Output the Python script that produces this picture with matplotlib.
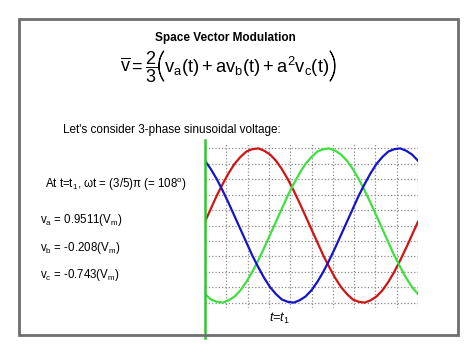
import matplotlib
matplotlib.use("Agg")
import matplotlib.pyplot as plt
import matplotlib.patheffects as pe
from matplotlib.patches import Rectangle

plt.rcParams['font.family'] = ['Liberation Sans', 'DejaVu Sans']
plt.rcParams['mathtext.fontset'] = 'custom'
plt.rcParams['mathtext.rm'] = 'Liberation Sans'
plt.rcParams['mathtext.it'] = 'Liberation Sans:italic'
plt.rcParams['mathtext.bf'] = 'Liberation Sans:bold'
plt.rcParams['mathtext.sf'] = 'Liberation Sans'

# angle in degrees (one period across the plot)
theta = [0, 10, 20, 30, 40, 50, 60, 70, 80, 90, 100, 110, 120, 130, 140, 150, 160, 170, 180,
         190, 200, 210, 220, 230, 240, 250, 260, 270, 280, 290, 300, 310, 320, 330, 340, 350, 360]

# values (per unit of Vm)
va = [0.05, 0.22, 0.39, 0.54, 0.68, 0.80, 0.89, 0.96, 0.99, 1.00, 0.97, 0.92, 0.84, 0.73, 0.60,
      0.45, 0.29, 0.12, -0.05, -0.22, -0.39, -0.54, -0.68, -0.80, -0.89, -0.96, -0.99, -1.00,
      -0.97, -0.92, -0.84, -0.73, -0.60, -0.45, -0.29, -0.12, 0.05]
vb = [-0.89, -0.96, -0.99, -1.00, -0.97, -0.92, -0.84, -0.73, -0.60, -0.45, -0.29, -0.12, 0.05,
      0.22, 0.39, 0.54, 0.68, 0.80, 0.89, 0.96, 0.99, 1.00, 0.97, 0.92, 0.84, 0.73, 0.60, 0.45,
      0.29, 0.12, -0.05, -0.22, -0.39, -0.54, -0.68, -0.80, -0.89]
vc = [0.84, 0.73, 0.60, 0.45, 0.29, 0.12, -0.05, -0.22, -0.39, -0.54, -0.68, -0.80, -0.89, -0.96,
      -0.99, -1.00, -0.97, -0.92, -0.84, -0.73, -0.60, -0.45, -0.29, -0.12, 0.05, 0.22, 0.39,
      0.54, 0.68, 0.80, 0.89, 0.96, 0.99, 1.00, 0.97, 0.92, 0.84]

x_grid = [0, 36, 72, 108, 144, 180, 216, 252, 288, 324, 360]
y_grid = [-1.0, -0.8, -0.6, -0.4, -0.2, 0.0, 0.2, 0.4, 0.6, 0.8, 1.0]
t1 = 0         # where the green marker line sits
t1_label = 125  # where the t=t1 caption sits

W, H = 474, 355
fig = plt.figure(figsize=(W / 100, H / 100), dpi=100)
renderer = fig.canvas.get_renderer()

# slide frame
fig.patches.append(Rectangle((19 / W, 1 - 335 / H), 439 / W, 316 / H,
                             transform=fig.transFigure, fill=False,
                             edgecolor='#6e6e6e', linewidth=2.0))

fig.text(0.475, 0.893, 'Space Vector Modulation', ha='center', va='center',
         fontsize=8.5, fontweight='bold')


# equation laid out piece by piece so the outer brackets can be tall
def put(x_px, base_px, s, size, **kw):
    t = fig.text(x_px / W, 1 - base_px / H, s, ha='left', va='baseline', fontsize=size, **kw)
    return t.get_window_extent(renderer).x1


paren = dict(family=['Lato', 'Liberation Sans'], fontweight='light',
             path_effects=[pe.withStroke(linewidth=0.7, foreground='black')])
x = put(120, 73, r'$\overline{\mathrm{v}}=\dfrac{2}{3}$', 13)
x = put(x - 1, 77, '(', 25, **paren)
x = put(x - 1, 73, r'$\mathrm{v}_{\mathrm{a}}(\mathrm{t})+\mathrm{av}_{\mathrm{b}}(\mathrm{t})+'
                   r'\mathrm{a}^{2}\mathrm{v}_{\mathrm{c}}(\mathrm{t})$', 13.2)
put(x - 1, 77, ')', 25, **paren)

fig.text(0.133, 0.634, "Let's consider 3-phase sinusoidal voltage:", ha='left', va='center',
         fontsize=8.5)
fig.text(0.095, 0.479, r'At t=t$_{1}$, ωt = (3/5)π (= 108$^{\mathrm{o}}$)', ha='left',
         va='center', fontsize=8.3)
fig.text(0.084, 0.380, r'v$_{\mathrm{a}}$ = 0.9511(V$_{\mathrm{m}}$)', ha='left', va='center',
         fontsize=8.3)
fig.text(0.084, 0.301, r'v$_{\mathrm{b}}$ = -0.208(V$_{\mathrm{m}}$)', ha='left', va='center',
         fontsize=8.3)
fig.text(0.084, 0.225, r'v$_{\mathrm{c}}$ = -0.743(V$_{\mathrm{m}}$)', ha='left', va='center',
         fontsize=8.3)

ax = fig.add_axes([205 / W, 1 - 308 / H, 213 / W, 165 / H])
ax.plot(theta, va, color='#d01414', linewidth=1.6)
ax.plot(theta, vb, color='#3ee03e', linewidth=1.6)
ax.plot(theta, vc, color='#1414c8', linewidth=1.6)
ax.set_xlim(0, 360)
ax.set_ylim(-1.07, 1.07)
ax.set_xticks(x_grid)
ax.set_yticks(y_grid)
ax.grid(True, color='#8a8a8a', linestyle=':', linewidth=0.9)
ax.set_axisbelow(True)
ax.tick_params(length=0, labelbottom=False, labelleft=False)
for s in ax.spines.values():
    s.set_visible(False)

ax.axvline(t1, ymin=-0.18, ymax=1.02, color='#2ec82e', linewidth=1.8, clip_on=False)
ax.text(t1_label, -1.2, 't=t$_{\\mathit{1}}$', ha='center', va='center', fontsize=9,
        style='italic')

fig.savefig('out.png', dpi=100)
